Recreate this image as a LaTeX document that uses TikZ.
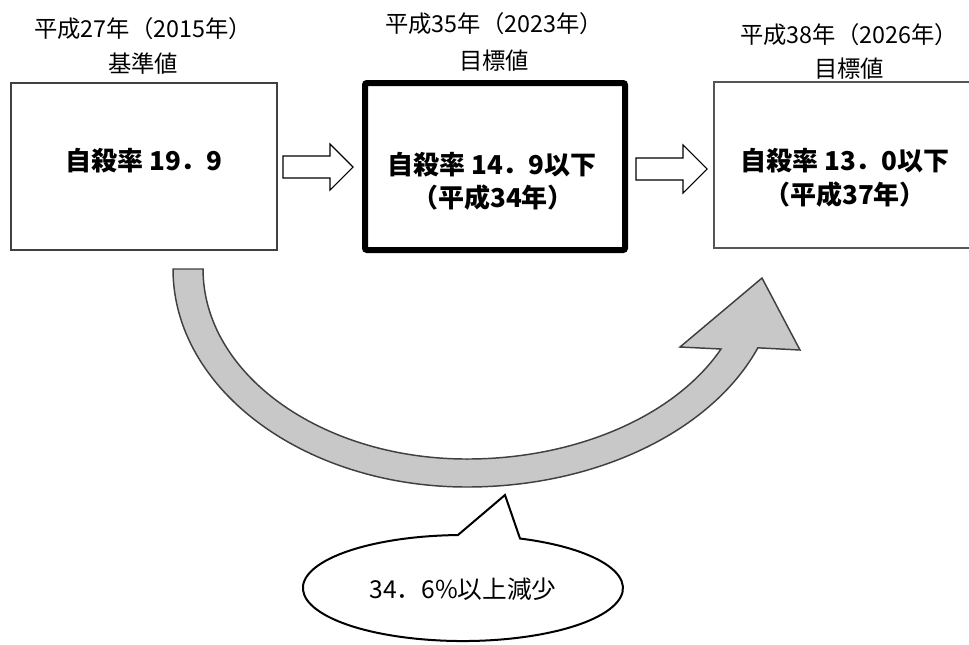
\documentclass[tikz,border=0pt]{standalone}
\usepackage{fontspec}
\newfontfamily\jp{Noto Sans CJK JP}
\definecolor{boxone}{HTML}{404040}
\definecolor{boxthree}{HTML}{555555}
\definecolor{bandfill}{HTML}{C8C8C8}
\definecolor{bandline}{HTML}{404040}
\begin{document}
\begin{tikzpicture}[x=0.75pt,y=-0.75pt,
  lbl/.style={font=\jp\fontsize{17.5}{20}\selectfont, inner sep=0pt},
  ctxt/.style={font=\jp\fontsize{18.5}{22}\selectfont, inner sep=0pt},
  btxt/.style={font=\jp\bfseries\fontsize{19.5}{22}\selectfont, inner sep=0pt},
  boxbase/.style={inner sep=0pt, minimum height=125.25pt},
  hollow/.style={draw=black, line width=0.8pt, fill=white, line join=miter},
  band/.style={draw=bandline, fill=bandfill, line width=1.1pt, line join=miter},
  bubble/.style={draw=black, fill=white, line width=1.5pt, line join=miter}]
\useasboundingbox (0,0) rectangle (969,644);
\clip (0,0) rectangle (969,644);
% boxes
\node[boxbase, draw=boxone, line width=1.1pt, minimum width=199.5pt] (b1) at (144,166.5) {};
\node[boxbase, draw=black, line width=4.5pt, rounded corners=1.5pt, minimum width=195pt] (b2) at (495,166.5) {};
\node[boxbase, draw=boxthree, line width=1.1pt, minimum width=210pt, minimum height=124.5pt] (b3) at (854,165) {};
% headings
\node[lbl] (h1a) at (143,29) {平成27年（2015年）};
\node[lbl] (h1b) at (143,64) {基準値};
\node[lbl] (h2a) at (494,24) {平成35年（2023年）};
\node[lbl] (h2b) at (494,61) {目標値};
\node[lbl] (h3a) at (849,35) {平成38年（2026年）};
\node[lbl] (h3b) at (849,69) {目標値};
% box texts
\node[btxt] (t1) at (144,161) {自殺率 19．9};
\node[btxt] (t2a) at (492,165) {自殺率 14．9以下};
\node[btxt] (t2b) at (493,198) {（平成34年）};
\node[btxt] (t3a) at (845,161) {自殺率 13．0以下};
\node[btxt] (t3b) at (845,195) {（平成37年）};
% hollow arrows between boxes
\draw[hollow] (283,156) -- (330,156) -- (330,144) -- (353,167) -- (330,190) -- (330,178) -- (283,178) -- cycle;
\draw[hollow] (636,158) -- (683,158) -- (683,145) -- (707,169) -- (683,193) -- (683,180) -- (636,180) -- cycle;
% curved band arrow
\draw[band] (173,269) arc[start angle=180, end angle=90, x radius=294, y radius=218]
  arc[start angle=90, end angle=21.2, x radius=312, y radius=218]
  -- (800,350) -- (762,278) -- (680,347) -- (721,349)
  arc[start angle=24.9, end angle=90, x radius=280, y radius=190]
  arc[start angle=90, end angle=180, x radius=264, y radius=190]
  -- cycle;
% callout
\draw[bubble] (520,538.5) arc[start angle=-69.1, end angle=268.2, x radius=160, y radius=53] -- (505,495) -- cycle;
\node[ctxt] (c1) at (463,589) {34．6\%以上減少};
\end{tikzpicture}
\end{document}
